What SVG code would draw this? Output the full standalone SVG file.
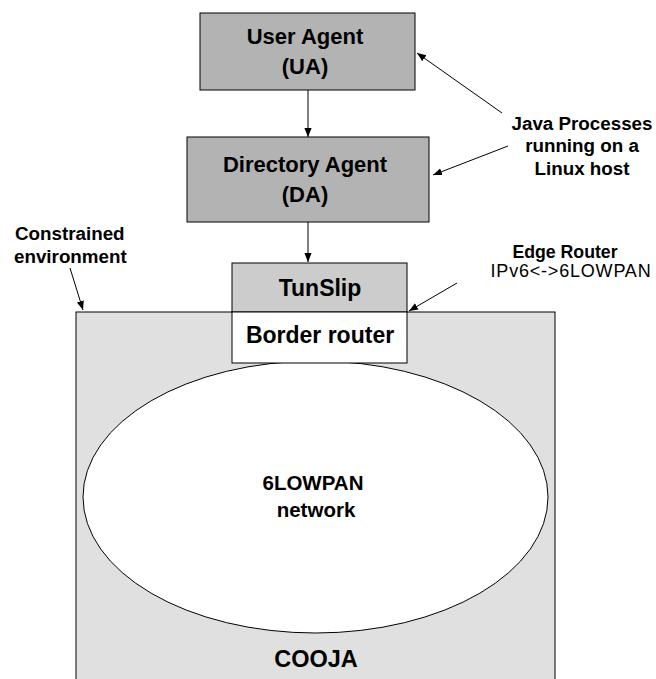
<svg xmlns="http://www.w3.org/2000/svg" width="656" height="679" viewBox="0 0 656 679">
<defs>
<marker id="ah" viewBox="0 0 10 10" refX="10" refY="5" markerWidth="9" markerHeight="9" markerUnits="userSpaceOnUse" orient="auto">
<path d="M0,1 L10,5 L0,9 z" fill="#000"/>
</marker>
<style>
.b{font-family:"Liberation Sans",Arial,sans-serif;font-weight:bold;fill:#000;text-anchor:middle}
.n{font-family:"Liberation Sans",Arial,sans-serif;fill:#000;text-anchor:middle}
.s{text-anchor:start}
.box{stroke:#000;stroke-width:1}
.c{stroke:#000;stroke-width:1;fill:none;marker-end:url(#ah)}
</style>
</defs>
<rect width="656" height="679" fill="#fff"/>
<g id="cooja">
<rect class="box" x="76" y="312" width="479" height="380" fill="#e0e0e0"/>
<text class="b" x="316" y="667" font-size="23.5">COOJA</text>
</g>
<g id="network">
<ellipse cx="315.5" cy="497" rx="232.5" ry="136" fill="#fff" stroke="#000" stroke-width="1"/>
<text class="b" x="313" y="490" font-size="20.5">6LOWPAN</text>
<text class="b" x="316" y="517" font-size="20.5">network</text>
</g>
<g id="ua">
<rect class="box" x="200" y="13" width="215" height="77" fill="#b3b3b3"/>
<text class="b" x="305" y="44" font-size="22">User Agent</text>
<text class="b" x="305" y="74" font-size="22">(UA)</text>
</g>
<g id="da">
<rect class="box" x="187" y="137" width="242" height="85" fill="#b3b3b3"/>
<text class="b" x="305" y="172" font-size="22">Directory Agent</text>
<text class="b" x="305" y="202" font-size="22">(DA)</text>
</g>
<g id="tunslip">
<rect class="box" x="232" y="263" width="175" height="49" fill="#cccccc"/>
<text class="b" x="320" y="296" font-size="23">TunSlip</text>
</g>
<g id="border">
<rect class="box" x="232" y="312" width="175" height="51" fill="#fff"/>
<text class="b" x="320" y="343" font-size="23">Border router</text>
</g>
<g id="labels">
<text class="b" x="582" y="130" font-size="18.8">Java Processes</text>
<text class="b" x="582" y="152" font-size="18.8">running on a</text>
<text class="b" x="582" y="175" font-size="18.8">Linux host</text>
<text class="b s" x="15" y="240" font-size="18.8">Constrained</text>
<text class="b s" x="14" y="263" font-size="18.8">environment</text>
<text class="b" x="565" y="258" font-size="17.7">Edge Router</text>
<text class="n" x="571" y="277" font-size="18" letter-spacing="0.8">IPv6&lt;-&gt;6LOWPAN</text>
</g>
<g id="connectors">
<line class="c" x1="308" y1="90" x2="308" y2="137"/>
<line class="c" x1="308" y1="222" x2="308" y2="262"/>
<line class="c" x1="502" y1="113" x2="417" y2="53"/>
<line class="c" x1="508" y1="146" x2="433" y2="175"/>
<line class="c" x1="70" y1="268" x2="83" y2="310"/>
<line class="c" x1="457" y1="283" x2="409" y2="311"/>
</g>
</svg>
